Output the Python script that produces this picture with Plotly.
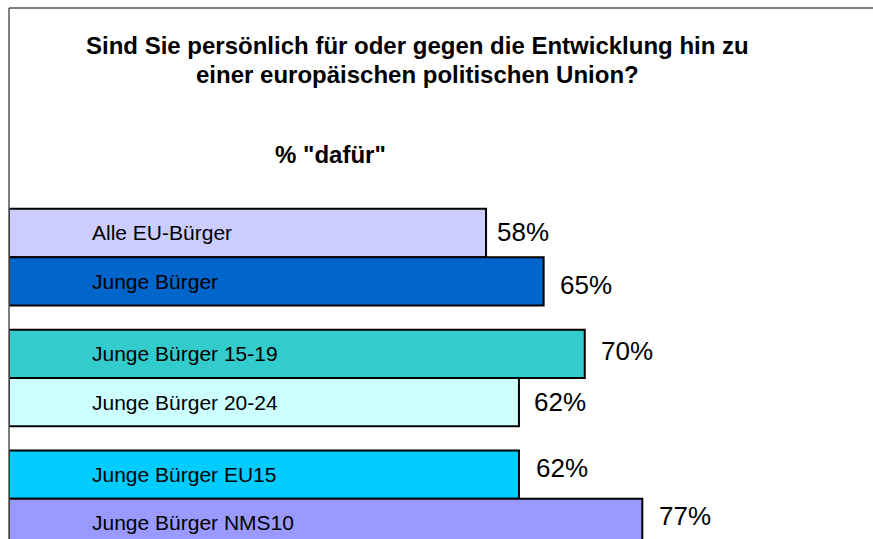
import plotly.graph_objects as go

# survey data
categories = ["Alle EU-Bürger", "Junge Bürger",
              "Junge Bürger 15-19", "Junge Bürger 20-24",
              "Junge Bürger EU15", "Junge Bürger NMS10"]
values = [58, 65, 70, 62, 62, 77]
groups = [0, 0, 1, 1, 2, 2]
colors = ["#CCCCFF", "#0066CC", "#33CCCC", "#CCFFFF", "#00CCFF", "#9999FF"]

title_1 = "Sind Sie persönlich für oder gegen die Entwicklung hin zu"
title_2 = "einer europäischen politischen Union?"
subtitle = '% "dafür"'

FONT = "Liberation Sans, Arial, sans-serif"

# small nudges of the value labels, as placed in the original slide
label_dx = [9, 14, 14, 13, 15, 15]
label_dy = [1, -4, 3, 0, 7, 7]

# slot positions: one unit per bar, half unit gap between groups
pos = [i + 0.5 * g for i, g in enumerate(groups)]

fig = go.Figure()
fig.add_trace(go.Bar(
    x=values, y=pos, orientation="h", width=1.0,
    marker=dict(color=colors, line=dict(color="#000000", width=2)),
    hoverinfo="skip",
))

# labels inside bars
for c, p in zip(categories, pos):
    fig.add_annotation(x=0, y=p, text=c, xanchor="left", yanchor="middle",
                       xshift=81, showarrow=False,
                       font=dict(family=FONT, size=21, color="#000000"))

# value labels
for v, p, dx, dy in zip(values, pos, label_dx, label_dy):
    fig.add_annotation(x=v, y=p, text=f"{v}%", xanchor="left", yanchor="middle",
                       xshift=dx, yshift=dy, showarrow=False,
                       font=dict(family=FONT, size=26, color="#000000"))

# titles (paper coords)
fig.add_annotation(xref="paper", yref="paper", x=(417 - 9) / 864, y=(539 - 46) / 531,
                   text=title_1, showarrow=False, xanchor="center", yanchor="middle",
                   font=dict(family=FONT, size=24, color="#000000", weight="bold"))
fig.add_annotation(xref="paper", yref="paper", x=(417 - 9) / 864, y=(539 - 75) / 531,
                   text=title_2, showarrow=False, xanchor="center", yanchor="middle",
                   font=dict(family=FONT, size=24, color="#000000", weight="bold"))
fig.add_annotation(xref="paper", yref="paper", x=(330 - 9) / 864, y=(539 - 154) / 531,
                   text=subtitle, showarrow=False, xanchor="center", yanchor="middle",
                   font=dict(family=FONT, size=24, color="#000000", weight="bold"))

# frame lines (top and left)
fig.add_shape(type="line", xref="paper", yref="paper", x0=0, x1=1, y0=1, y1=1,
              line=dict(color="#555555", width=1.5))
fig.add_shape(type="line", xref="paper", yref="paper", x0=0, x1=0, y0=0, y1=1,
              line=dict(color="#555555", width=1.5))

fig.update_layout(
    width=873, height=539,
    margin=dict(l=9, r=0, t=8, b=0),
    plot_bgcolor="#FFFFFF", paper_bgcolor="#FFFFFF",
    showlegend=False,
    xaxis=dict(range=[0, 864 / 8.225], visible=False, fixedrange=True),
    yaxis=dict(range=[6.332, -4.655], visible=False, fixedrange=True),
    font=dict(family=FONT),
)

fig.write_html("out.html", config={"displayModeBar": False},
               post_script="document.body.style.margin='0';document.body.style.overflow='hidden';")
